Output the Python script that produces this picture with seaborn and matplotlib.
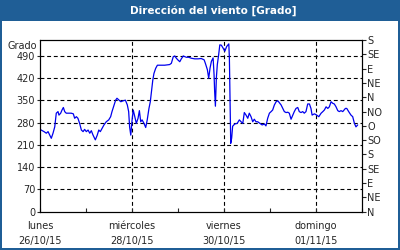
import matplotlib
matplotlib.use("Agg")
import matplotlib.pyplot as plt
from matplotlib.patches import Rectangle
import seaborn as sns
import pandas as pd

# hours since Monday 26/10/15 00:00
hours = [0, 2.1, 3.3, 4.2, 5.1, 5.9, 6.8, 7.7, 8.5, 9.4, 9.9, 10.8, 11.5, 12.2, 12.9, 13.7,
         15.0, 16.3, 17.4, 18.1, 19.0, 19.8, 20.7, 21.6, 22.5, 23.3, 24.2, 25.1, 26.0, 26.8,
         27.7, 28.9, 29.9, 30.7, 31.5, 32.4, 33.4, 34.6, 35.9, 36.9, 37.6, 38.7, 39.5, 40.2,
         41.6, 42.2, 43.4, 44.6, 45.6, 46.3, 46.8, 47.4, 48.1, 48.7, 49.5, 50.3, 51.2, 51.9,
         52.6, 53.3, 54.3, 55.2, 56.0, 56.9, 57.6, 58.1, 58.9, 59.5, 60.4, 61.3, 62.5, 65.1,
         67.7, 68.6, 69.6, 70.4, 71.2, 72.1, 73.0, 73.8, 74.8, 75.6, 76.4, 77.7, 79.0, 80.8,
         82.5, 84.2, 85.7, 86.3, 87.4, 88.1, 88.8, 89.5, 90.4, 90.9, 91.2, 91.6, 92.1, 92.6,
         93.3, 93.9, 94.7, 95.6, 96.5, 97.5, 98.6, 98.9, 99.2, 99.4, 99.6, 100.1, 100.6, 101.7,
         103.0, 104.1, 105.0, 105.9, 106.7, 107.6, 108.5, 109.3, 110.2, 111.1, 111.9, 112.8,
         113.7, 114.9, 116.0, 117.2, 118.0, 118.9, 119.8, 120.7, 121.5, 122.4, 123.3, 124.2,
         125.0, 125.9, 126.8, 127.6, 128.5, 129.4, 130.2, 131.1, 132.0, 132.8, 133.7, 134.6,
         135.4, 136.3, 137.2, 138.0, 138.9, 139.8, 140.7, 141.5, 142.1, 143.3, 144.5, 145.6,
         146.8, 147.7, 148.5, 149.4, 150.3, 151.1, 152.0, 152.9, 153.7, 154.6, 155.5, 156.3,
         157.2, 158.1, 159.5, 160.2, 161.2, 162.4, 163.3, 164.2, 165.0, 165.9]
direction = [259, 252, 247, 252, 241, 231, 247, 267, 310, 315, 304, 310, 320, 328, 315, 310,
             310, 310, 308, 294, 299, 294, 278, 257, 252, 259, 252, 257, 247, 255,
             241, 226, 241, 257, 252, 262, 273, 283, 289, 299, 315, 336, 351, 357,
             349, 346, 349, 351, 336, 315, 267, 241, 289, 320, 299, 278, 294, 318,
             283, 289, 278, 265, 289, 325, 346, 372, 414, 435, 451, 461, 461, 461,
             463, 467, 488, 490, 483, 477, 472, 481, 490, 488, 486, 486, 483, 481,
             481, 482, 478, 468, 447, 420, 452, 473, 484, 431, 379, 332, 421, 463,
             494, 525, 524, 515, 505, 520, 528, 484, 368, 284, 215, 232, 269, 276,
             278, 289, 283, 278, 312, 304, 294, 310, 299, 283, 291, 283,
             283, 278, 273, 276, 270, 294, 310, 315, 320, 336, 346, 349,
             343, 336, 325, 315, 312, 313, 310, 291, 304, 315, 325, 328,
             315, 312, 315, 310, 315, 339, 339, 325, 304, 308, 304, 299,
             310, 315, 320, 330, 325, 330, 346, 341, 339, 330, 318, 315,
             318, 315, 325, 325, 315, 304, 299, 278, 267, 273]

left_ticks = [0, 70, 140, 210, 280, 350, 420, 490]
right_ticks = [0, 45, 90, 135, 180, 225, 270, 315, 360, 405, 450, 495, 540]
right_labels = ["N", "NE", "E", "SE", "S", "SO", "O", "NO", "N", "NE", "E", "SE", "S"]
day_ticks = [0, 24, 48, 72, 96, 120, 144, 168]
day_labels = ["lunes\n26/10/15", "", "miércoles\n28/10/15", "", "viernes\n30/10/15", "",
              "domingo\n01/11/15", ""]

df = pd.DataFrame({"hours": hours, "direction": direction})

sns.set_style("white")
plt.rcParams["font.family"] = ["DejaVu Sans"]
blue = "#1f5e96"

fig = plt.figure(figsize=(4, 2.5), dpi=100)
fig.patch.set_facecolor(blue)
fig.patches.append(Rectangle((2 / 400, 2 / 250), 396 / 400, 227 / 250,
                             transform=fig.transFigure, facecolor="white",
                             edgecolor="none", zorder=-10))
fig.text(213 / 400, 1 - 10.5 / 250, "Dirección del viento [Grado]", color="white",
         fontsize=7.5, fontweight="bold", ha="center", va="center")

ax = fig.add_axes([40 / 400, 1 - 211.7 / 250, 321.7 / 400, 171.6 / 250])
ax.set_facecolor("none")
sns.lineplot(data=df, x="hours", y="direction", ax=ax, color="#0000ee", linewidth=0.9)
ax.set_xlim(0, 168)
ax.set_ylim(0, 540)
ax.set_xlabel("")
ax.set_ylabel("")

for v in left_ticks[1:]:
    ax.axhline(v, color="black", lw=0.8, ls=(0, (3.5, 2.5)), zorder=0.5)
for d in [48, 96, 144]:
    ax.axvline(d, color="black", lw=0.8, ls=(0, (3.5, 2.5)), zorder=0.5)

ax.set_yticks(left_ticks)
ax.set_yticklabels([str(v) for v in left_ticks], fontsize=7)
ax.tick_params(axis="y", direction="out", length=2, width=0.8, pad=1.5, left=True)
ax.set_xticks(day_ticks)
ax.set_xticklabels(day_labels, fontsize=7)
ax.tick_params(axis="x", direction="in", length=3, width=0.8, pad=6.5, bottom=True)
for t in ax.get_xticklabels():
    t.set_linespacing(1.6)
for s in ax.spines.values():
    s.set_color("black")
    s.set_linewidth(0.8)

ax2 = ax.twinx()
ax2.set_ylim(0, 540)
ax2.set_yticks(right_ticks)
ax2.set_yticklabels(right_labels, fontsize=7)
ax2.tick_params(axis="y", direction="out", length=3, width=0.8, pad=1, right=True)
for s in ax2.spines.values():
    s.set_color("black")
    s.set_linewidth(0.8)

fig.text(8 / 400, 1 - 46 / 250, "Grado", fontsize=7, ha="left", va="center")

fig.savefig("out.png", dpi=100, facecolor=fig.get_facecolor())
